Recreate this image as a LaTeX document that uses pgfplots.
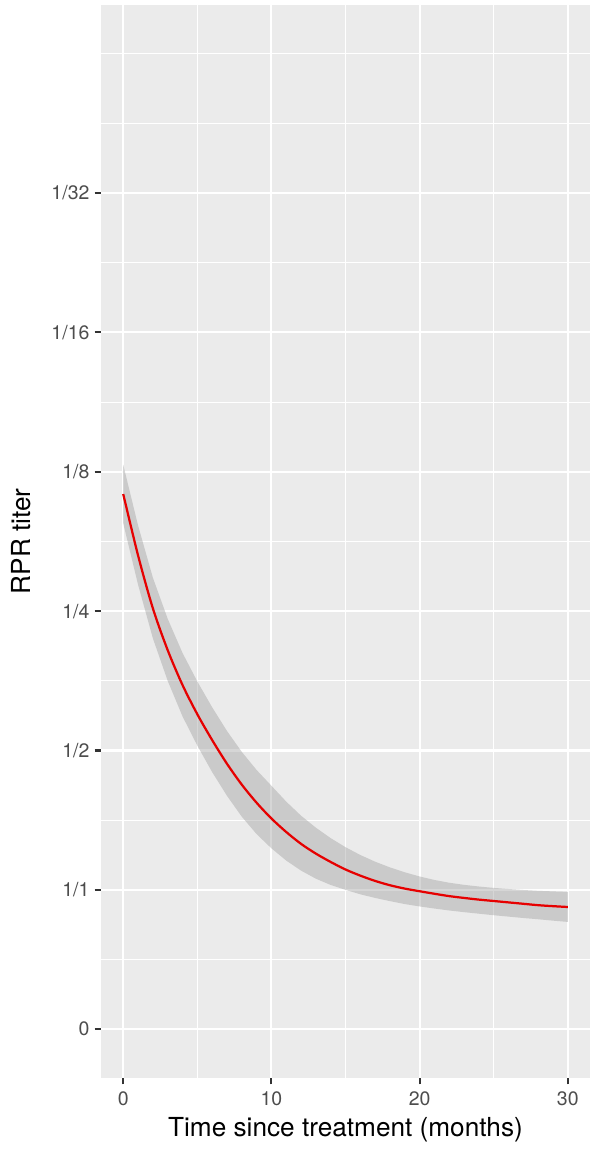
\documentclass[border=0pt]{standalone}
\usepackage{fontspec}
\setmainfont{TeX Gyre Heros}
\usepackage{pgfplots}
\pgfplotsset{compat=1.18}
\definecolor{panel}{HTML}{EBEBEB}
\definecolor{grey30}{HTML}{4D4D4D}
\definecolor{grey20}{HTML}{333333}
\definecolor{lred}{HTML}{E60000}
\definecolor{ribbon}{HTML}{999999}
\begin{document}
\begin{tikzpicture}
\path[use as bounding box] (-49.75pt,-34.97pt) rectangle (241.9pt,531.0pt);
\begin{axis}[
  at={(0,0)}, anchor=south west,
  scale only axis, width=240.9pt, height=528.6pt,
  xmin=-1.5, xmax=31.5, ymin=-0.35, ymax=7.35,
  xtick={0,10,20,30}, xticklabels={0,10,20,30},
  minor xtick={5,15,25},
  ytick={0,1,2,3,4,5,6}, yticklabels={0,1/1,1/2,1/4,1/8,1/16,1/32},
  minor ytick={0.5,1.5,2.5,3.5,4.5,5.5,6.5,7},
  axis background/.style={fill=panel},
  axis line style={draw=none},
  grid=both,
  major grid style={draw=white, line width=1.05pt},
  minor grid style={draw=white, line width=0.5pt},
  tick pos=left, tick align=outside,
  major tick length=3.1pt, minor tick length=0pt,
  major tick style={draw=grey20, line width=1pt},
  xticklabel style={font=\fontsize{9.6}{11}\selectfont, text=grey30, anchor=north, inner sep=0pt, yshift=-3.6pt},
  yticklabel style={font=\fontsize{9.6}{11}\selectfont, text=grey30, anchor=east, inner sep=0pt, xshift=-2.4pt},
  xlabel={Time since treatment (months)},
  ylabel={RPR titer},
  xlabel style={font=\fontsize{12.9}{15}\selectfont, at={(axis description cs:0.5,0)}, anchor=base, yshift=-28.6pt, inner sep=0pt},
  ylabel style={font=\fontsize{12.9}{15}\selectfont, at={(axis description cs:0,0.5)}, anchor=base, yshift=34.6pt, inner sep=0pt},
]
\addplot[fill=ribbon, fill opacity=0.4, draw=none] coordinates {
(0,4.05) (1,3.615) (2,3.24) (3,2.945) (4,2.70) (5,2.495) (6,2.31) (7,2.14) (8,1.99) (9,1.86) (10,1.747)
(11,1.633) (12,1.532) (13,1.446) (14,1.371) (15,1.306) (16,1.25) (17,1.202) (18,1.161) (19,1.126) (20,1.096)
(21,1.071) (22,1.051) (23,1.036) (24,1.024) (25,1.014) (26,1.006) (27,0.999) (28,0.993) (29,0.989) (30,0.985)
(30,0.77) (29,0.779) (28,0.789) (27,0.798) (26,0.808) (25,0.818) (24,0.829) (23,0.84) (22,0.852) (21,0.866)
(20,0.881) (19,0.898) (18,0.919) (17,0.942) (16,0.968) (15,1.0) (14,1.035) (13,1.08) (12,1.138) (11,1.21)
(10,1.298) (9,1.40) (8,1.525) (7,1.675) (6,1.845) (5,2.035) (4,2.245) (3,2.50) (2,2.805) (1,3.19) (0,3.63)
} -- cycle;
\addplot[lred, line width=1.1pt, smooth] coordinates {
(0,3.84) (1,3.40) (2,3.02) (3,2.72) (4,2.47) (5,2.26) (6,2.075) (7,1.905) (8,1.755) (9,1.625) (10,1.512)
(11,1.415) (12,1.33) (13,1.26) (14,1.20) (15,1.146) (16,1.102) (17,1.064) (18,1.033) (19,1.009) (20,0.99)
(21,0.972) (22,0.955) (23,0.942) (24,0.93) (25,0.92) (26,0.91) (27,0.90) (28,0.89) (29,0.883) (30,0.877)};
\end{axis}
\end{tikzpicture}
\end{document}
